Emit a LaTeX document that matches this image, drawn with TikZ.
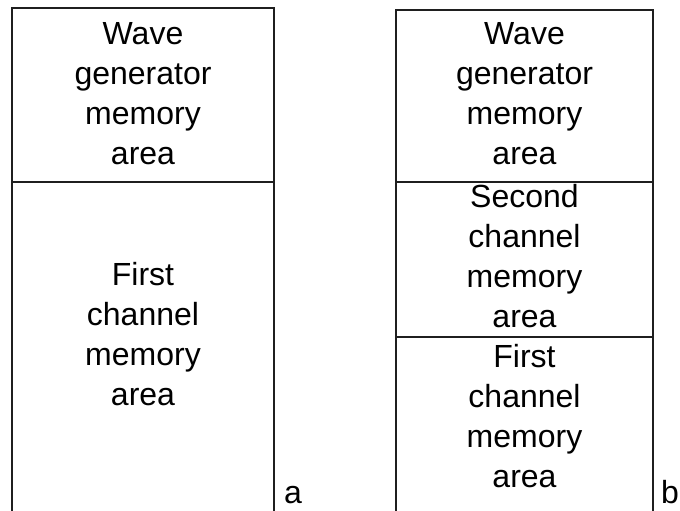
\documentclass[tikz,border=0pt]{standalone}
\usepackage{fontspec}
\setmainfont{Liberation Sans}
\begin{document}
\begin{tikzpicture}[x=1pt,y=-1pt,
  boxline/.style={draw=black!88,line width=1.3pt},
  areatext/.style={anchor=north,inner sep=0pt,align=center,
    font=\fontsize{32}{40}\selectfont},
  tag/.style={anchor=base west,inner sep=0pt,font=\fontsize{32}{40}\selectfont}]
\useasboundingbox (0,0) rectangle (680,511);
% left column (a)
\draw[boxline] (12,511) -- (12,8) -- (274,8) -- (274,511);
\draw[boxline] (12,182) -- (274,182);
\node[areatext] (aw) at (143,22) {Wave\\generator\\memory\\area};
\node[areatext] (af) at (143,262) {First\\channel\\memory\\area};
\node[tag] (la) at (284,503) {a};
% right column (b)
\draw[boxline] (396,511) -- (396,10) -- (653,10) -- (653,511);
\draw[boxline] (396,182) -- (653,182);
\draw[boxline] (396,337) -- (653,337);
\node[tag] (lb) at (661,503) {b};
\node[areatext] (bw) at (524.5,22) {Wave\\generator\\memory\\area};
\node[areatext] (bs) at (524.5,184) {Second\\channel\\memory\\area};
\node[areatext] (bf) at (524.5,344) {First\\channel\\memory\\area};
\end{tikzpicture}
\end{document}
